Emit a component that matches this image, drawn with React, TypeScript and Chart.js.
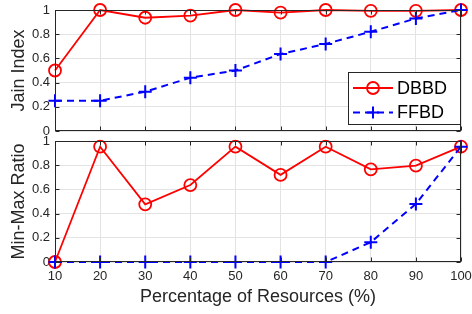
import React, { useEffect, useRef } from "react";
import { Chart, registerables } from "chart.js";

Chart.register(...registerables);

const resources = [10, 20, 30, 40, 50, 60, 70, 80, 90, 100];
const jainDBBD = [0.5, 1.0, 0.936, 0.953, 1.0, 0.978, 1.0, 0.993, 0.993, 1.0];
const jainFFBD = [0.25, 0.25, 0.325, 0.44, 0.5, 0.636, 0.72, 0.82, 0.93, 1.0];
const ratioDBBD = [0.0, 0.953, 0.477, 0.636, 0.953, 0.72, 0.953, 0.766, 0.796, 0.953];
const ratioFFBD = [0.0, 0.0, 0.0, 0.0, 0.0, 0.0, 0.0, 0.163, 0.48, 0.953];
const seriesNames = ["DBBD", "FFBD"];
const yTitles = ["Jain Index", "Min-Max Ratio"];
const xTitle = "Percentage of Resources (%)";

const FONT = "'Liberation Sans', Arial, Helvetica, sans-serif";
const AXIS = "#262626";
const GRID = "#e3e3e3";
const W = 472;
const H = 314;

const boxPlugin = {
  id: "matlabBox",
  afterDraw(chart: any) {
    const { ctx, chartArea: a, scales } = chart;
    ctx.save();
    ctx.strokeStyle = AXIS;
    ctx.lineWidth = 1;
    const L = Math.round(a.left) + 0.5;
    const R = Math.round(a.right) - 0.5;
    const T = Math.round(a.top) + 0.5;
    const B = Math.round(a.bottom) - 0.5;
    ctx.strokeRect(L, T, R - L, B - T);
    const tl = 4;
    ctx.beginPath();
    scales.x.ticks.forEach((t: any) => {
      const px = Math.round(scales.x.getPixelForValue(t.value)) + 0.5;
      ctx.moveTo(px, B);
      ctx.lineTo(px, B - tl);
      ctx.moveTo(px, T);
      ctx.lineTo(px, T + tl);
    });
    scales.y.ticks.forEach((t: any) => {
      const py = Math.round(scales.y.getPixelForValue(t.value)) + 0.5;
      ctx.moveTo(L, py);
      ctx.lineTo(L + tl, py);
      ctx.moveTo(R, py);
      ctx.lineTo(R - tl, py);
    });
    ctx.stroke();

    if (chart.options.plugins.matlabBox && chart.options.plugins.matlabBox.legend) {
      const lx = 348.5, ly = 72.5, lw = 112, lh = 52;
      ctx.fillStyle = "#ffffff";
      ctx.fillRect(lx, ly, lw, lh);
      ctx.strokeStyle = AXIS;
      ctx.lineWidth = 1;
      ctx.strokeRect(lx, ly, lw, lh);
      const rows = [88, 112.5];
      // DBBD
      ctx.strokeStyle = "#ff0000";
      ctx.lineWidth = 1.8;
      ctx.beginPath();
      ctx.moveTo(353, rows[0]);
      ctx.lineTo(393, rows[0]);
      ctx.stroke();
      ctx.beginPath();
      ctx.arc(373, rows[0], 6, 0, Math.PI * 2);
      ctx.stroke();
      // FFBD
      ctx.strokeStyle = "#0000ff";
      ctx.lineWidth = 2;
      ctx.setLineDash([7, 5]);
      ctx.beginPath();
      ctx.moveTo(353, rows[1]);
      ctx.lineTo(393, rows[1]);
      ctx.stroke();
      ctx.setLineDash([]);
      ctx.beginPath();
      ctx.moveTo(367, rows[1]);
      ctx.lineTo(379, rows[1]);
      ctx.moveTo(373, rows[1] - 6);
      ctx.lineTo(373, rows[1] + 6);
      ctx.stroke();
      ctx.fillStyle = "#000000";
      ctx.font = `18px ${FONT}`;
      ctx.textBaseline = "middle";
      ctx.textAlign = "left";
      ctx.fillText(seriesNames[0], 397, rows[0] + 1);
      ctx.fillText(seriesNames[1], 397, rows[1] + 1);
    }
    ctx.restore();
  },
};

function makeConfig(top: boolean): any {
  const a = top ? jainDBBD : ratioDBBD;
  const b = top ? jainFFBD : ratioFFBD;
  return {
    type: "line",
    data: {
      datasets: [
        {
          label: seriesNames[0],
          data: resources.map((x, i) => ({ x, y: a[i] })),
          borderColor: "#ff0000",
          backgroundColor: "rgba(0,0,0,0)",
          borderWidth: 1.8,
          pointStyle: "circle",
          pointRadius: 6,
          pointBorderWidth: 1.8,
          pointBorderColor: "#ff0000",
          pointBackgroundColor: "rgba(0,0,0,0)",
          tension: 0,
          clip: false,
          order: 1,
        },
        {
          label: seriesNames[1],
          data: resources.map((x, i) => ({ x, y: b[i] })),
          borderColor: "#0000ff",
          backgroundColor: "rgba(0,0,0,0)",
          borderWidth: 2,
          borderDash: [7, 5],
          pointStyle: "cross",
          pointRadius: 6.5,
          pointBorderWidth: 2,
          pointBorderColor: "#0000ff",
          tension: 0,
          clip: false,
          order: 0,
        },
      ],
    },
    options: {
      responsive: false,
      animation: false,
      devicePixelRatio: 1,
      layout: {
        padding: top
          ? { top: 10, right: 11, left: 0, bottom: 0 }
          : { top: 141, right: 11, left: 0, bottom: 0 },
      },
      plugins: {
        legend: { display: false },
        tooltip: { enabled: false },
        matlabBox: { legend: top },
      },
      scales: {
        x: {
          type: "linear",
          min: 10,
          max: 100,
          ticks: {
            stepSize: 10,
            display: !top,
            color: AXIS,
            font: { family: FONT, size: 13 },
            padding: 7,
            maxRotation: 0,
            autoSkip: false,
          },
          grid: { color: GRID, drawTicks: false, lineWidth: 1 },
          border: { display: false },
          title: {
            display: !top,
            text: xTitle,
            color: AXIS,
            font: { family: FONT, size: 18 },
            padding: { top: 0, bottom: 6 },
          },
          afterFit: (s: any) => {
            s.height = top ? H - 131 : H - 262;
            s.paddingRight = 0;
            s.paddingLeft = 0;
          },
        },
        y: {
          min: 0,
          max: 1,
          ticks: {
            stepSize: 0.2,
            color: AXIS,
            font: { family: FONT, size: 13 },
            padding: 5,
            callback: (v: any) => String(Number(Number(v).toFixed(1))),
          },
          grid: { color: GRID, drawTicks: false, lineWidth: 1 },
          border: { display: false },
          title: {
            display: true,
            text: top ? yTitles[0] : yTitles[1],
            color: AXIS,
            font: { family: FONT, size: 18 },
            padding: { top: 8, bottom: 0 },
          },
          afterFit: (s: any) => {
            s.width = 55;
            s.paddingTop = 0;
            s.paddingBottom = 0;
          },
        },
      },
    },
    plugins: [boxPlugin],
  };
}

export default function App() {
  const ref1 = useRef<HTMLCanvasElement | null>(null);
  const ref2 = useRef<HTMLCanvasElement | null>(null);
  useEffect(() => {
    const c1 = new Chart(ref1.current as HTMLCanvasElement, makeConfig(true));
    const c2 = new Chart(ref2.current as HTMLCanvasElement, makeConfig(false));
    return () => {
      c1.destroy();
      c2.destroy();
    };
  }, []);
  const cs: React.CSSProperties = { position: "absolute", left: 0, top: 0 };
  return (
    <div style={{ position: "fixed", left: 0, top: 0, width: W, height: H, background: "#fff" }}>
      <canvas ref={ref2} width={W} height={H} style={cs} />
      <canvas ref={ref1} width={W} height={H} style={cs} />
    </div>
  );
}
